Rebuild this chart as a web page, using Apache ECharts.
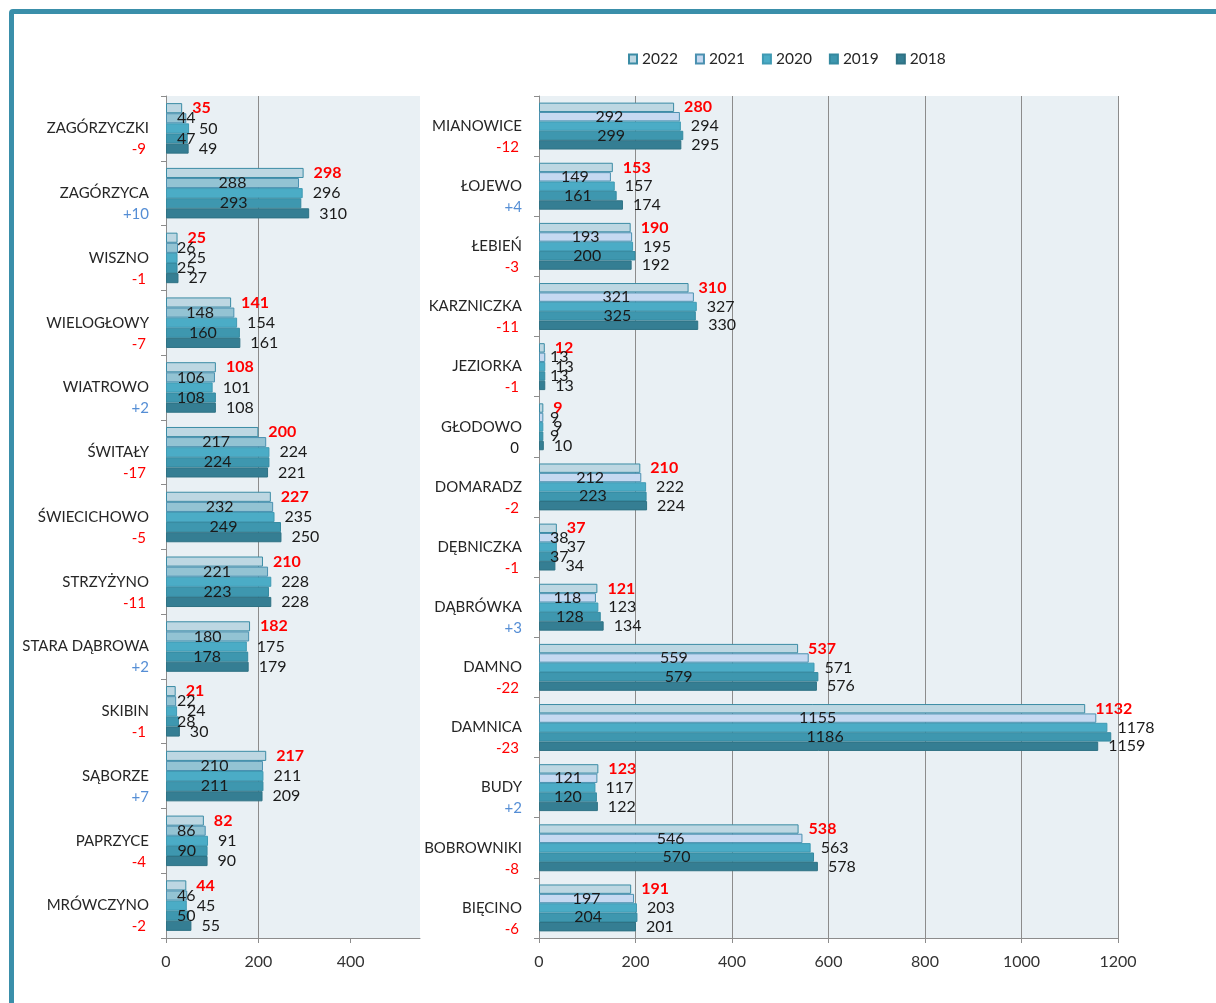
<!DOCTYPE html>
<html>
<head>
<meta charset="utf-8">
<script src="https://cdn.jsdelivr.net/npm/echarts@6/dist/echarts.min.js"></script>
<style>
html, body { margin: 0; padding: 0; background: #fff; overflow: hidden; }
#frame { position: absolute; left: 9px; top: 9px; width: 1300px; height: 1100px; border: 5px solid #3a8faa; border-top-left-radius: 4px; box-sizing: border-box; }
#chart { position: absolute; left: 0; top: 0; width: 1216px; height: 1003px; }
</style>
</head>
<body>
<div id="frame"></div>
<div id="chart"></div>
<script>
// lata w legendzie (od góry słupków)
const years = ['2022', '2021', '2020', '2019', '2018'];

// lewy panel
const leftNames = ['ZAGÓRZYCZKI', 'ZAGÓRZYCA', 'WISZNO', 'WIELOGŁOWY', 'WIATROWO', 'ŚWITAŁY', 'ŚWIECICHOWO',
    'STRZYŻYNO', 'STARA DĄBROWA', 'SKIBIN', 'SĄBORZE', 'PAPRZYCE', 'MRÓWCZYNO'];
const leftDelta = ['-9', '+10', '-1', '-7', '+2', '-17', '-5', '-11', '+2', '-1', '+7', '-4', '-2'];
const left2022 = [35, 298, 25, 141, 108, 200, 227, 210, 182, 21, 217, 82, 44];
const left2021 = [44, 288, 26, 148, 106, 217, 232, 221, 180, 22, 210, 86, 46];
const left2020 = [50, 296, 25, 154, 101, 224, 235, 228, 175, 24, 211, 91, 45];
const left2019 = [47, 293, 25, 160, 108, 224, 249, 223, 178, 28, 211, 90, 50];
const left2018 = [49, 310, 27, 161, 108, 221, 250, 228, 179, 30, 209, 90, 55];
const leftTicks = [0, 200, 400];

// prawy panel
const rightNames = ['MIANOWICE', 'ŁOJEWO', 'ŁEBIEŃ', 'KARZNICZKA', 'JEZIORKA', 'GŁODOWO', 'DOMARADZ',
    'DĘBNICZKA', 'DĄBRÓWKA', 'DAMNO', 'DAMNICA', 'BUDY', 'BOBROWNIKI', 'BIĘCINO'];
const rightDelta = ['-12', '+4', '-3', '-11', '-1', '0', '-2', '-1', '+3', '-22', '-23', '+2', '-8', '-6'];
const right2022 = [280, 153, 190, 310, 12, 9, 210, 37, 121, 537, 1132, 123, 538, 191];
const right2021 = [292, 149, 193, 321, 13, 9, 212, 38, 118, 559, 1155, 121, 546, 197];
const right2020 = [294, 157, 195, 327, 13, 9, 222, 37, 123, 571, 1178, 117, 563, 203];
const right2019 = [299, 161, 200, 325, 13, 9, 223, 37, 128, 579, 1186, 120, 570, 204];
const right2018 = [295, 174, 192, 330, 13, 10, 224, 34, 134, 576, 1159, 122, 578, 201];

const FONT = 'Lato, "Open Sans", sans-serif';
const GRAY = '#8c8c8c';

// kolory słupków (2021 w lewym panelu jest ciemniejszy)
const rightColors = ['#bdd7e2', '#c6d9f1', '#4bacc6', '#3e97af', '#357e93'];
const leftColors = ['#bdd7e2', '#93c3d3', '#4bacc6', '#3e97af', '#357e93'];
const borders = ['#3b8ca5', '#4a90b0', '#3f9ab3', '#358aa0', '#2f7284'];

const makeSeries = (vals, i, gi, colors) => {
    const inside = i === 1 || i === 3;
    const s = {
        type: 'bar',
        name: years[i],
        xAxisIndex: gi,
        yAxisIndex: gi,
        data: vals,
        barCategoryGap: '22%',
        barGap: '0%',
        itemStyle: { color: colors[i], borderColor: borders[i], borderWidth: 1 },
        emphasis: { disabled: true },
        label: {
            show: true,
            position: inside ? 'inside' : 'right',
            distance: 10,
            fontFamily: FONT,
            fontSize: 16,
            color: i === 0 ? '#ff0000' : '#1a1a1a',
            fontWeight: i === 0 ? 'bold' : 'normal',
            textBorderWidth: 0
        }
    };
    if (inside) {
        // krótkie słupki: etykieta nie wchodzi bliżej niż 11px od osi
        s.labelLayout = p => {
            const d = p.rect.x + 11 - p.labelRect.x;
            return d > 0 ? { dx: d } : {};
        };
    }
    return s;
};

const deltaStyle = d => d.startsWith('-') ? 'neg' : (d.startsWith('+') ? 'pos' : 'zero');

const catAxis = (gi, names, delta) => ({
    gridIndex: gi,
    type: 'category',
    data: names,
    inverse: true,
    axisLine: { show: true, lineStyle: { color: GRAY } },
    axisTick: { show: true, length: 5, lineStyle: { color: GRAY } },
    splitLine: { show: false },
    axisLabel: {
        interval: 0,
        margin: 17,
        padding: [21, 0, 0, 0],
        formatter: (v, idx) => '{n|' + v + '}\n{' + deltaStyle(delta[idx]) + '|' + delta[idx] + '}',
        rich: {
            n: { fontFamily: FONT, fontSize: 15, color: '#262626', lineHeight: 21, align: 'right' },
            neg: { fontFamily: FONT, fontSize: 15, color: '#ff0000', lineHeight: 21, align: 'right', padding: [0, 3, 0, 0] },
            pos: { fontFamily: FONT, fontSize: 15, color: '#558ed5', lineHeight: 21, align: 'right' },
            zero: { fontFamily: FONT, fontSize: 15, color: '#1a1a1a', lineHeight: 21, align: 'right', padding: [0, 3, 0, 0] }
        }
    }
});

const valAxis = (gi, max, ticks) => ({
    gridIndex: gi,
    type: 'value',
    min: 0,
    max: max,
    interval: 200,
    axisLine: { show: true, lineStyle: { color: GRAY } },
    axisTick: { show: true, length: 5, lineStyle: { color: GRAY }, customValues: ticks },
    axisLabel: {
        margin: 16, fontFamily: FONT, fontSize: 16, color: '#333', customValues: ticks,
        formatter: v => String(v)
    },
    splitLine: { show: true, showMinLine: false, showMaxLine: gi === 1, lineStyle: { color: GRAY, width: 1 } }
});

const chart = echarts.init(document.getElementById('chart'));

const series = [
    makeSeries(right2022, 0, 1, rightColors),
    makeSeries(right2021, 1, 1, rightColors),
    makeSeries(right2020, 2, 1, rightColors),
    makeSeries(right2019, 3, 1, rightColors),
    makeSeries(right2018, 4, 1, rightColors),
    makeSeries(left2022, 0, 0, leftColors),
    makeSeries(left2021, 1, 0, leftColors),
    makeSeries(left2020, 2, 0, leftColors),
    makeSeries(left2019, 3, 0, leftColors),
    makeSeries(left2018, 4, 0, leftColors)
];

chart.setOption({
    animation: false,
    textStyle: { fontFamily: FONT },
    legend: {
        data: years,
        left: 623,
        top: 46,
        icon: 'rect',
        itemWidth: 8,
        itemHeight: 9,
        itemGap: 17,
        selectedMode: false,
        textStyle: { fontFamily: FONT, fontSize: 15.5, color: '#262626' }
    },
    grid: [
        { left: 166, top: 96, width: 254, height: 842, show: true, backgroundColor: '#e9f0f4', borderWidth: 0 },
        { left: 539, top: 96, width: 579, height: 842, show: true, backgroundColor: '#e9f0f4', borderWidth: 0 }
    ],
    xAxis: [valAxis(0, 550, leftTicks), valAxis(1, 1200, undefined)],
    yAxis: [catAxis(0, leftNames, leftDelta), catAxis(1, rightNames, rightDelta)],
    series: series
});
</script>
</body>
</html>
